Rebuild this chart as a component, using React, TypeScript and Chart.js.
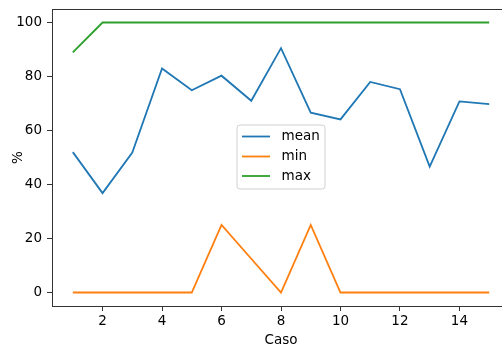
import React, { useEffect, useRef } from "react";
import { Chart, registerables } from "chart.js";

Chart.register(...registerables);

const casos = [1, 2, 3, 4, 5, 6, 7, 8, 9, 10, 11, 12, 13, 14, 15];
const meanVals = [52.0, 36.8, 51.8, 83.0, 74.9, 80.3, 71.0, 90.5, 66.6, 64.1, 78.0, 75.3, 46.6, 70.8, 69.8];
const minVals = [0, 0, 0, 0, 0, 25, 12.5, 0, 25, 0, 0, 0, 0, 0, 0];
const maxVals = [88.9, 100, 100, 100, 100, 100, 100, 100, 100, 100, 100, 100, 100, 100, 100];
const xTicks = [2, 4, 6, 8, 10, 12, 14];
const yTicks = [0, 20, 40, 60, 80, 100];
const seriesNames = ["mean", "min", "max"];
const seriesColors = ["#1f77b4", "#ff7f0e", "#2ca02c"];
const xLabel = "Caso";
const yLabel = "%";

const FONT = "DejaVu Sans";
const FS = 13.5;

const decorPlugin = {
  id: "decor",
  afterDraw(chart: any) {
    const { ctx, chartArea } = chart;
    const { left, right, top, bottom } = chartArea;
    ctx.save();
    ctx.strokeStyle = "#333";
    ctx.lineWidth = 1;
    ctx.beginPath();
    ctx.moveTo(left, top + 0.5);
    ctx.lineTo(right, top + 0.5);
    ctx.stroke();
    ctx.beginPath();
    ctx.moveTo(right - 0.5, top);
    ctx.lineTo(right - 0.5, bottom);
    ctx.stroke();

    const cx = (left + right) / 2;
    const cy = (top + bottom) / 2;

    ctx.fillStyle = "#000";
    ctx.font = `${FS}px "${FONT}"`;
    ctx.textAlign = "center";
    ctx.textBaseline = "middle";
    ctx.fillText(xLabel, cx, 340);
    ctx.save();
    ctx.translate(18, cy);
    ctx.rotate(-Math.PI / 2);
    ctx.fillText(yLabel, 0, 0);
    ctx.restore();

    const bw = 88, bh = 64;
    const bx = cx - bw / 2, by = cy - bh / 2 - 0.5;
    ctx.beginPath();
    const r = 3;
    ctx.moveTo(bx + r, by);
    ctx.lineTo(bx + bw - r, by);
    ctx.quadraticCurveTo(bx + bw, by, bx + bw, by + r);
    ctx.lineTo(bx + bw, by + bh - r);
    ctx.quadraticCurveTo(bx + bw, by + bh, bx + bw - r, by + bh);
    ctx.lineTo(bx + r, by + bh);
    ctx.quadraticCurveTo(bx, by + bh, bx, by + bh - r);
    ctx.lineTo(bx, by + r);
    ctx.quadraticCurveTo(bx, by, bx + r, by);
    ctx.closePath();
    ctx.fillStyle = "rgba(255,255,255,0.8)";
    ctx.fill();
    ctx.strokeStyle = "#d0d0d0";
    ctx.lineWidth = 1;
    ctx.stroke();

    const rowY = [by + 11.5, by + 31.5, by + 51];
    seriesNames.forEach((name, i) => {
      ctx.strokeStyle = seriesColors[i];
      ctx.lineWidth = 1.8;
      ctx.beginPath();
      ctx.moveTo(bx + 5, rowY[i]);
      ctx.lineTo(bx + 33, rowY[i]);
      ctx.stroke();
      ctx.fillStyle = "#000";
      ctx.textAlign = "left";
      ctx.textBaseline = "middle";
      ctx.fillText(name, bx + 44.5, rowY[i]);
    });
    ctx.restore();
  },
};

export default function App() {
  const ref = useRef<HTMLCanvasElement>(null);
  useEffect(() => {
    if (!ref.current) return;
    const mk = (data: number[], i: number) => ({
      label: seriesNames[i],
      data: casos.map((x, k) => ({ x, y: data[k] })),
      borderColor: seriesColors[i],
      backgroundColor: seriesColors[i],
      borderWidth: 1.8,
      pointRadius: 0,
      tension: 0,
      fill: false,
    });
    const chart = new Chart(ref.current, {
      type: "line",
      data: {
        datasets: [mk(meanVals, 0), mk(minVals, 1), mk(maxVals, 2)],
      },
      options: {
        responsive: false,
        animation: false,
        layout: { padding: { top: 9, right: 10, left: 0, bottom: 0 } },
        plugins: { legend: { display: false }, tooltip: { enabled: false } },
        scales: {
          x: {
            type: "linear",
            min: 0.3,
            max: 15.7,
            afterBuildTicks: (s: any) => {
              s.ticks = xTicks.map((v) => ({ value: v }));
            },
            afterFit: (s: any) => {
              s.height = 41;
              s.paddingLeft = 0;
              s.paddingRight = 0;
            },
            grid: { drawOnChartArea: false, drawTicks: true, tickLength: 5, color: "#333" },
            border: { display: true, color: "#333", width: 1 },
            ticks: { color: "#000", padding: 2, font: { family: FONT, size: FS }, maxRotation: 0 },
          },
          y: {
            type: "linear",
            min: -5,
            max: 105,
            afterBuildTicks: (s: any) => {
              s.ticks = yTicks.map((v) => ({ value: v }));
            },
            afterFit: (s: any) => {
              s.width = 52;
              s.paddingTop = 0;
              s.paddingBottom = 0;
            },
            grid: { drawOnChartArea: false, drawTicks: true, tickLength: 5, color: "#333" },
            border: { display: true, color: "#333", width: 1 },
            ticks: { color: "#000", padding: 5, font: { family: FONT, size: FS } },
          },
        },
      },
      plugins: [decorPlugin],
    });
    return () => chart.destroy();
  }, []);
  return (
    <div
      style={{
        position: "fixed",
        left: 0,
        top: 0,
        width: 502,
        height: 347,
        overflow: "hidden",
        background: "#fff",
      }}
    >
      <canvas ref={ref} width={520} height={347} style={{ display: "block" }} />
    </div>
  );
}
